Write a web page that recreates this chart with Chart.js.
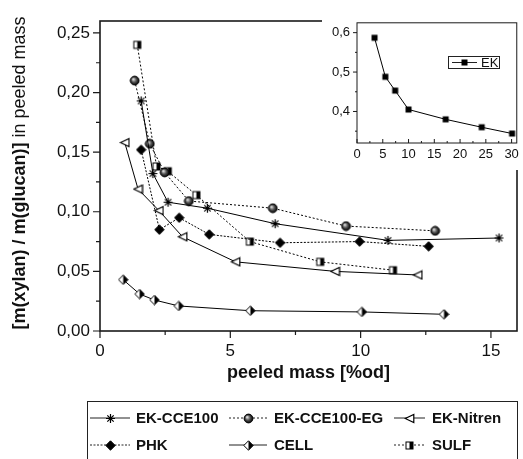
<!DOCTYPE html>
<html>
<head>
<meta charset="utf-8">
<script src="https://cdn.jsdelivr.net/npm/chart.js@4"></script>
<style>
body { margin: 0; background: #fff; }
#wrap { position: relative; width: 523px; height: 459px; overflow: hidden; }
#main { position: absolute; left: 0; top: 0; }
#inset { position: absolute; left: 322px; top: 8px; background: #fff; }
</style>
</head>
<body>
<div id="wrap">
<canvas id="main" width="523" height="459"></canvas>
<canvas id="inset" width="201" height="162"></canvas>
</div>
<script>
// main plot data (peeled mass %od, xylan/glucan ratio)
const ccex = [1.58, 2.03, 2.61, 4.12, 6.72, 11.05, 15.31];
const ccey = [0.193, 0.132, 0.108, 0.103, 0.090, 0.076, 0.078];
const egx = [1.33, 1.91, 2.48, 3.41, 6.63, 9.44, 12.86];
const egy = [0.210, 0.157, 0.133, 0.109, 0.103, 0.088, 0.084];
const nitx = [0.95, 1.46, 2.26, 3.17, 5.20, 9.02, 12.19];
const nity = [0.158, 0.119, 0.101, 0.079, 0.058, 0.050, 0.047];
const phkx = [1.58, 2.28, 3.04, 4.19, 6.91, 9.96, 12.61];
const phky = [0.152, 0.085, 0.095, 0.081, 0.074, 0.075, 0.071];
const cellx = [0.89, 1.52, 2.09, 3.02, 5.77, 10.05, 13.20];
const celly = [0.043, 0.031, 0.026, 0.021, 0.017, 0.016, 0.014];
const sulfx = [1.43, 2.17, 2.60, 3.70, 5.75, 8.45, 11.24];
const sulfy = [0.240, 0.138, 0.134, 0.114, 0.075, 0.058, 0.051];
const names = ['EK-CCE100', 'EK-CCE100-EG', 'EK-Nitren', 'PHK', 'CELL', 'SULF'];
const xTicks = [0, 5, 10, 15];
const yTicks = [0, 0.05, 0.10, 0.15, 0.20, 0.25];

// inset data
const ekx = [3.4, 5.5, 7.4, 10.0, 17.2, 24.2, 30.1];
const eky = [0.587, 0.488, 0.453, 0.405, 0.380, 0.360, 0.344];
const insetName = 'EK';
const insetXTicks = [0, 5, 10, 15, 20, 25, 30];
const insetYTicks = [0.4, 0.5, 0.6];

const FONT = '"Liberation Sans", Arial, Helvetica, sans-serif';

function marker(kind) {
    const c = document.createElement('canvas');
    c.width = 11; c.height = 11;
    const g = c.getContext('2d');
    const m = 5.5;
    g.strokeStyle = '#000';
    g.lineWidth = 1;
    if (kind === 'star') {
        g.lineWidth = 1.2;
        g.beginPath();
        for (let i = 0; i < 4; i++) {
            const a = i * Math.PI / 4;
            g.moveTo(m - 4.5 * Math.cos(a), m - 4.5 * Math.sin(a));
            g.lineTo(m + 4.5 * Math.cos(a), m + 4.5 * Math.sin(a));
        }
        g.stroke();
    } else if (kind === 'ball') {
        const gr = g.createRadialGradient(m - 1.5, m - 1.5, 0.3, m, m, 4.5);
        gr.addColorStop(0, '#e8e8e8');
        gr.addColorStop(0.5, '#555');
        gr.addColorStop(1, '#000');
        g.fillStyle = gr;
        g.beginPath(); g.arc(m, m, 4.4, 0, Math.PI * 2); g.fill(); g.stroke();
    } else if (kind === 'tri') {
        g.fillStyle = '#fff';
        g.lineWidth = 1.2;
        g.beginPath(); g.moveTo(1.2, m); g.lineTo(9.8, 1.5); g.lineTo(9.8, 9.5); g.closePath();
        g.fill(); g.stroke();
    } else if (kind === 'diamond') {
        g.fillStyle = '#000';
        g.beginPath(); g.moveTo(m, 0.8); g.lineTo(10.2, m); g.lineTo(m, 10.2); g.lineTo(0.8, m); g.closePath();
        g.fill(); g.stroke();
    } else if (kind === 'halfdiamond') {
        g.fillStyle = '#fff';
        g.beginPath(); g.moveTo(m, 0.8); g.lineTo(10.2, m); g.lineTo(m, 10.2); g.lineTo(0.8, m); g.closePath();
        g.fill();
        g.fillStyle = '#000';
        g.beginPath(); g.moveTo(m, 0.8); g.lineTo(10.2, m); g.lineTo(m, 10.2); g.closePath(); g.fill();
        g.beginPath(); g.moveTo(m, 0.8); g.lineTo(10.2, m); g.lineTo(m, 10.2); g.lineTo(0.8, m); g.closePath();
        g.stroke();
    } else if (kind === 'halfsquare') {
        g.fillStyle = '#fff';
        g.fillRect(2, 2, 7, 7);
        g.fillStyle = '#000';
        g.fillRect(m, 2, 3.5, 7);
        g.strokeRect(2, 2, 7, 7);
    } else if (kind === 'square') {
        g.fillStyle = '#000';
        g.fillRect(2.5, 2.5, 6, 6);
    }
    return c;
}

function pts(xs, ys) {
    return xs.map((x, i) => ({ x: x, y: ys[i] }));
}

function comma(v, d) {
    return v.toFixed(d).replace('.', ',');
}

const markers = ['star', 'ball', 'tri', 'diamond', 'halfdiamond', 'halfsquare'].map(marker);
const dashes = [[], [2, 2], [], [2, 1.5], [], [2, 2]];
const seriesX = [ccex, egx, nitx, phkx, cellx, sulfx];
const seriesY = [ccey, egy, nity, phky, celly, sulfy];

const datasets = names.map((n, i) => ({
    label: n,
    data: pts(seriesX[i], seriesY[i]),
    showLine: true,
    borderColor: '#000',
    borderWidth: 1,
    borderDash: dashes[i],
    pointStyle: markers[i],
    pointRadius: 5,
    tension: 0
}));

// frame plus major/minor ticks (xDir: 1 outward, -1 inward)
const frameTicks = {
    id: 'frameTicks',
    afterDraw(chart, args, o) {
        const ctx = chart.ctx, a = chart.chartArea;
        const xs = chart.scales.x, ys = chart.scales.y;
        ctx.save();
        ctx.strokeStyle = '#1a1a1a';
        ctx.lineWidth = o.lw;
        ctx.strokeRect(a.left, a.top, a.right - a.left, a.bottom - a.top);
        ctx.lineWidth = o.tw;
        ctx.beginPath();
        let start = Math.ceil(xs.min / o.xMinor - 1e-6) * o.xMinor;
        for (let v = start; v <= xs.max + 1e-9; v += o.xMinor) {
            const p = xs.getPixelForValue(v);
            const r = v / o.xMajor;
            const major = Math.abs(r - Math.round(r)) < 1e-6;
            ctx.moveTo(p, a.bottom);
            ctx.lineTo(p, a.bottom + o.xDir * (major ? o.major : o.minor));
        }
        start = Math.ceil(ys.min / o.yMinor - 1e-6) * o.yMinor;
        for (let v = start; v <= ys.max + 1e-9; v += o.yMinor) {
            const p = ys.getPixelForValue(v);
            const r = v / o.yMajor;
            const major = Math.abs(r - Math.round(r)) < 1e-6;
            ctx.moveTo(a.left, p);
            ctx.lineTo(a.left - (major ? o.major : o.minor), p);
        }
        ctx.stroke();
        ctx.restore();
    }
};

// y title with bold and regular part, plus the boxed legend under the plot
const extras = {
    id: 'extras',
    afterDraw(chart) {
        const ctx = chart.ctx;
        ctx.save();
        ctx.fillStyle = '#111';
        ctx.translate(20, 173);
        ctx.rotate(-Math.PI / 2);
        ctx.textBaseline = 'middle';
        ctx.font = 'bold 18px ' + FONT;
        const p1 = '[m(xylan) / m(glucan)]';
        const w1 = ctx.measureText(p1).width;
        ctx.font = '18px ' + FONT;
        const p2 = ' in peeled mass';
        const w2 = ctx.measureText(p2).width;
        const x0 = -(w1 + w2) / 2;
        ctx.font = 'bold 18px ' + FONT;
        ctx.textAlign = 'left';
        ctx.fillText(p1, x0, 0);
        ctx.font = '18px ' + FONT;
        ctx.fillText(p2, x0 + w1, 0);
        ctx.restore();

        ctx.save();
        ctx.strokeStyle = '#222';
        ctx.lineWidth = 1;
        ctx.strokeRect(87.5, 401.5, 430, 70);
        const cols = [[90, 130, 136], [229, 267, 274], [394, 425, 432]];
        const rows = [418, 445];
        ctx.font = 'bold 15px ' + FONT;
        ctx.textBaseline = 'middle';
        ctx.fillStyle = '#111';
        chart.data.datasets.forEach((ds, i) => {
            const c = cols[i % 3], y = rows[Math.floor(i / 3)];
            ctx.beginPath();
            ctx.setLineDash(ds.borderDash);
            ctx.moveTo(c[0], y); ctx.lineTo(c[1], y);
            ctx.stroke();
            ctx.setLineDash([]);
            const mk = ds.pointStyle;
            ctx.drawImage(mk, Math.round((c[0] + c[1]) / 2 - mk.width / 2), Math.round(y - mk.height / 2));
            ctx.fillText(ds.label, c[2], y + 1);
        });
        ctx.restore();
    }
};

Chart.defaults.font.family = FONT;
Chart.defaults.color = '#111';

new Chart(document.getElementById('main'), {
    type: 'scatter',
    data: { datasets: datasets },
    options: {
        responsive: false,
        animation: false,
        layout: { padding: { left: 0, right: 4, top: 21, bottom: 70 } },
        plugins: {
            legend: { display: false },
            tooltip: { enabled: false },
            frameTicks: { lw: 1.6, tw: 1.2, major: 7, minor: 4, xDir: 1, xMajor: 5, xMinor: 2.5, yMajor: 0.05, yMinor: 0.025 }
        },
        scales: {
            x: {
                type: 'linear', min: 0, max: 16,
                afterBuildTicks: s => { s.ticks = xTicks.map(v => ({ value: v })); },
                afterFit: s => { s.height = 58; },
                grid: { display: false, drawTicks: false },
                border: { display: false },
                ticks: { font: { size: 17 }, padding: 10, maxRotation: 0, callback: v => String(v) },
                title: { display: true, text: 'peeled mass [%od]', font: { size: 18, weight: 'bold' }, padding: { top: 0, bottom: 5 } }
            },
            y: {
                type: 'linear', min: 0, max: 0.26,
                afterBuildTicks: s => { s.ticks = yTicks.map(v => ({ value: v })); },
                afterFit: s => { s.width = 100; },
                grid: { display: false, drawTicks: false },
                border: { display: false },
                ticks: { font: { size: 17 }, padding: 10, callback: v => comma(v, 2) }
            }
        }
    },
    plugins: [frameTicks, extras]
});

// inset legend box
const insetLegend = {
    id: 'insetLegend',
    afterDraw(chart) {
        const ctx = chart.ctx;
        ctx.save();
        ctx.strokeStyle = '#222';
        ctx.lineWidth = 1;
        ctx.strokeRect(126.5, 48.5, 51, 12);
        ctx.beginPath();
        ctx.moveTo(130, 54.5); ctx.lineTo(155, 54.5);
        ctx.stroke();
        const mk = chart.data.datasets[0].pointStyle;
        ctx.drawImage(mk, 137, 49);
        ctx.font = '13px ' + FONT;
        ctx.fillStyle = '#111';
        ctx.textBaseline = 'middle';
        ctx.fillText(chart.data.datasets[0].label, 159, 55);
        ctx.restore();
    }
};

new Chart(document.getElementById('inset'), {
    type: 'scatter',
    data: {
        datasets: [{
            label: insetName,
            data: pts(ekx, eky),
            showLine: true,
            borderColor: '#000',
            borderWidth: 1,
            pointStyle: marker('square'),
            pointRadius: 4,
            tension: 0
        }]
    },
    options: {
        responsive: false,
        animation: false,
        layout: { padding: { left: 0, right: 4, top: 9, bottom: 0 } },
        plugins: {
            legend: { display: false },
            tooltip: { enabled: false },
            frameTicks: { lw: 1, tw: 1, major: 4, minor: 2, xDir: -1, xMajor: 5, xMinor: 2.5, yMajor: 0.1, yMinor: 0.05 }
        },
        scales: {
            x: {
                type: 'linear', min: 0, max: 31,
                afterBuildTicks: s => { s.ticks = insetXTicks.map(v => ({ value: v })); },
                afterFit: s => { s.height = 27; },
                grid: { display: false, drawTicks: false },
                border: { display: false },
                ticks: { font: { size: 13 }, padding: 4, maxRotation: 0, callback: v => String(v) }
            },
            y: {
                type: 'linear', min: 0.32, max: 0.625,
                afterBuildTicks: s => { s.ticks = insetYTicks.map(v => ({ value: v })); },
                afterFit: s => { s.width = 35; },
                grid: { display: false, drawTicks: false },
                border: { display: false },
                ticks: { font: { size: 13 }, padding: 7, callback: v => comma(v, 1) }
            }
        }
    },
    plugins: [frameTicks, insetLegend]
});
</script>
</body>
</html>
